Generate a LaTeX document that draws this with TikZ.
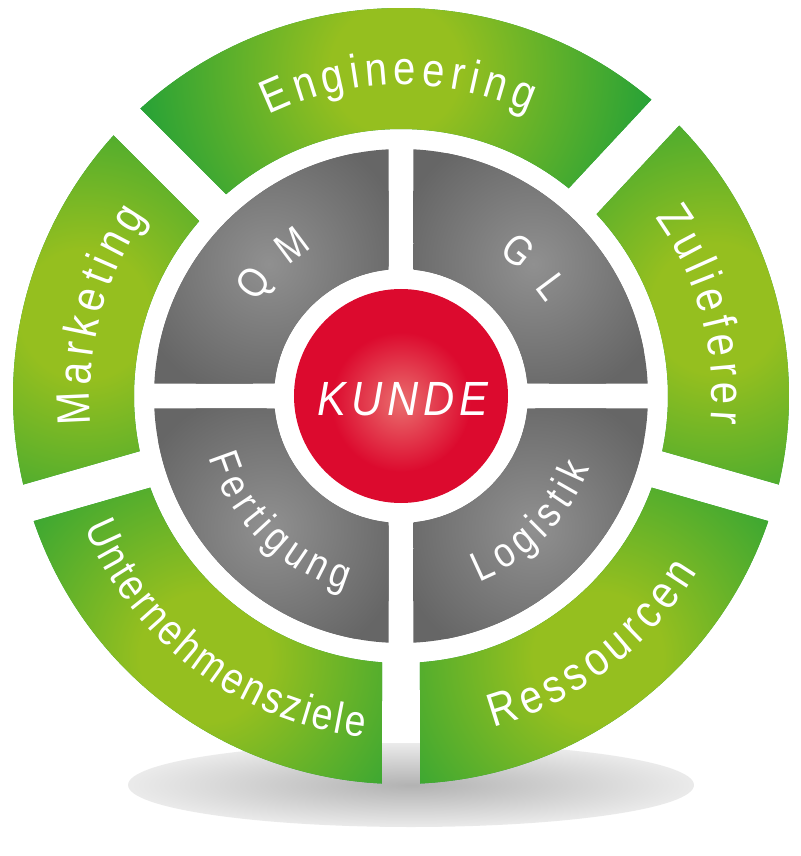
\documentclass[tikz,border=0pt]{standalone}
\usepackage{fontspec}
\usetikzlibrary{decorations.text}
\newfontfamily\ringfont[FakeStretch=0.85]{Liberation Sans}
\newfontfamily\kundefont[FakeStretch=0.9,LetterSpace=10]{Liberation Sans}
\definecolor{greenlight}{HTML}{95BF1F}
\definecolor{greendark}{HTML}{20A038}
\definecolor{graylight}{HTML}{909090}
\definecolor{graydark}{HTML}{666666}
\definecolor{kundered}{HTML}{DC0A2E}
\definecolor{kundelight}{HTML}{EA6E6E}
\pgfdeclareradialshading{segshade}{\pgfpoint{0bp}{0bp}}{color(0bp)=(greenlight); color(6bp)=(greenlight);
  color(25bp)=(greendark); color(50bp)=(greendark)}
\tikzset{
  ringtext/.style={decorate,decoration={text along path,text color=white,text align=center,
    text={|\ringfont\fontsize{47}{50}\selectfont\kern5.5pt|#1}}},
  smallringtext/.style={decorate,decoration={text along path,text color=white,text align=center,
    text={|\ringfont\fontsize{44}{48}\selectfont\kern2.8pt|#1}}},
  quadtext/.style={decorate,decoration={text along path,text color=white,text align=center,
    text={|\ringfont\fontsize{42}{46}\selectfont\kern6pt|#1}}}
}

\begin{document}
\begin{tikzpicture}
\useasboundingbox (-401pt,-460pt) rectangle (399pt,396pt);

% shadow under the ring
\shade[inner color=black!30,outer color=black!8] (10pt,-389pt) ellipse (283pt and 42pt);

% outer ring, gaps 38pt wide
\foreach \s/\e in {47/135,135/196,196/270,270/344,344/407}{
  \pgfmathsetmacro\angSi{\s+4.08} \pgfmathsetmacro\angSo{\s+2.81}
  \pgfmathsetmacro\angEi{\e-4.08} \pgfmathsetmacro\angEo{\e-2.81}
  \pgfmathsetmacro\angM{(\s+\e)/2}
  \begin{scope}
    \clip (\angSi:267pt) -- (\angSo:388pt) arc[start angle=\angSo,end angle=\angEo,radius=388pt]
      -- (\angEi:267pt) arc[start angle=\angEi,end angle=\angSi,radius=267pt] -- cycle;
    \fill[greendark] (-400pt,-400pt) rectangle (400pt,400pt);
    \shade[shading=segshade] (\angM:327pt) circle (270pt);
  \end{scope}
}

% inner ring, cross 25pt wide
\foreach \s in {0,90,180,270}{
  \pgfmathsetmacro\angSi{\s+5.65} \pgfmathsetmacro\angSo{\s+2.90}
  \pgfmathsetmacro\angEi{\s+90-5.65} \pgfmathsetmacro\angEo{\s+90-2.90}
  \pgfmathsetmacro\angM{\s+45}
  \begin{scope}
    \clip (\angSi:127pt) -- (\angSo:247pt) arc[start angle=\angSo,end angle=\angEo,radius=247pt]
      -- (\angEi:127pt) arc[start angle=\angEi,end angle=\angSi,radius=127pt] -- cycle;
    \fill[graydark] (-250pt,-250pt) rectangle (250pt,250pt);
    \shade[inner color=graylight,outer color=graydark] (\angM:187pt) circle (140pt);
  \end{scope}
}

% centre
\fill[kundered] (0,0) circle (107pt);
\shade[inner color=kundelight,outer color=kundered] (0,-6pt) circle (70pt);
\node[text=white,font=\kundefont\itshape\fontsize{48}{50}\selectfont] (kunde) at (2pt,-3pt) {KUNDE};

% labels
\path[ringtext=Engineering] (145:311pt) arc[start angle=145,end angle=37,radius=311pt];
\path[ringtext=Marketing] (206:311pt) arc[start angle=206,end angle=125,radius=311pt];
\path[ringtext=Zulieferer] (417:311pt) arc[start angle=417,end angle=334,radius=311pt];
\path[smallringtext=Unternehmensziele] (186:343pt) arc[start angle=186,end angle=280,radius=343pt];
\path[ringtext=Ressourcen] (260:344pt) arc[start angle=260,end angle=354,radius=344pt];
\path[quadtext=Q M] (190:172pt) arc[start angle=190,end angle=80,radius=172pt];
\path[quadtext=G L] (100:172pt) arc[start angle=100,end angle=-10,radius=172pt];
\path[quadtext=Fertigung] (170:202pt) arc[start angle=170,end angle=280,radius=202pt];
\path[quadtext=Logistik] (260:202pt) arc[start angle=260,end angle=370,radius=202pt];

\end{tikzpicture}
\end{document}
